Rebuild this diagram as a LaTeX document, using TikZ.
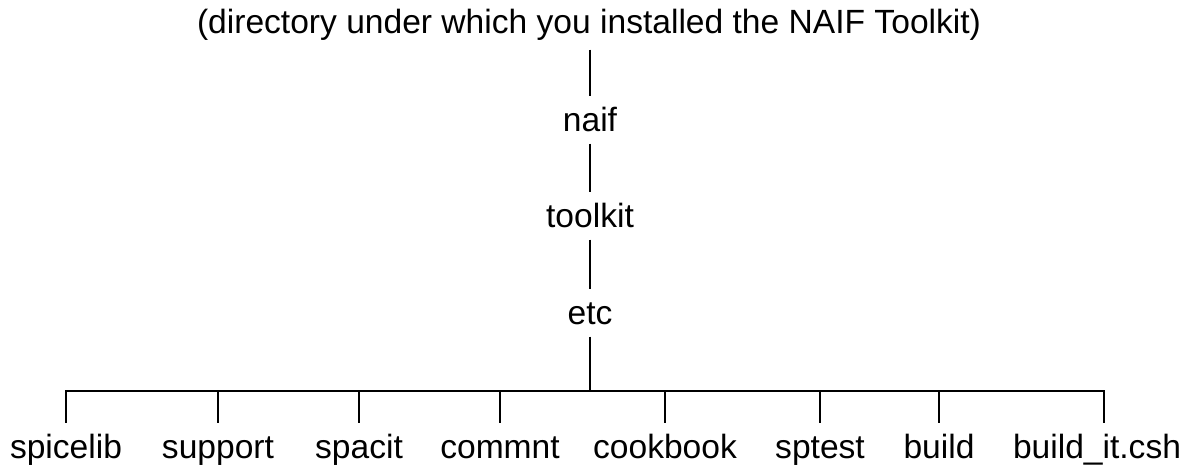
\documentclass[tikz,border=0pt]{standalone}
\usepackage{fontspec}
\setmainfont{Liberation Sans}

\begin{document}
\begin{tikzpicture}[x=0.01cm,y=-0.01cm,line width=0.6pt,
  every node/.style={anchor=base,inner sep=3pt,text height=7pt,text depth=0pt,font=\fontsize{9.55}{11}\selectfont}]
\useasboundingbox (0,0) rectangle (1189,468);
\node(top) at (589,34) {(directory under which you installed the NAIF Toolkit)};
\node(naif) at (590,132) {naif};
\node(toolkit) at (590,228) {toolkit};
\node(etc) at (590,325) {etc};
\coordinate(bus) at (590,391);
\node(spicelib) at (66,459) {spicelib};
\node(support) at (218,459) {support};
\node(spacit) at (359,459) {spacit};
\node(commnt) at (500,459) {commnt};
\node(cookbook) at (665,459) {cookbook};
\node(sptest) at (820,459) {sptest};
\node(build) at (939,459) {build};
\node(buildit) at (1097,459) {build\_it.csh};
\draw ([yshift=-4*0.01cm]top.south-|naif) -- (naif);
\draw (naif) -- (toolkit);
\draw (toolkit) -- (etc);
\draw (etc) -- (bus);
\foreach \n in {spicelib,support,spacit,commnt,cookbook,sptest,build}
  \draw (bus) -| (\n.north);
\draw (bus) -| ([xshift=7*0.01cm]buildit.north);
\end{tikzpicture}
\end{document}
